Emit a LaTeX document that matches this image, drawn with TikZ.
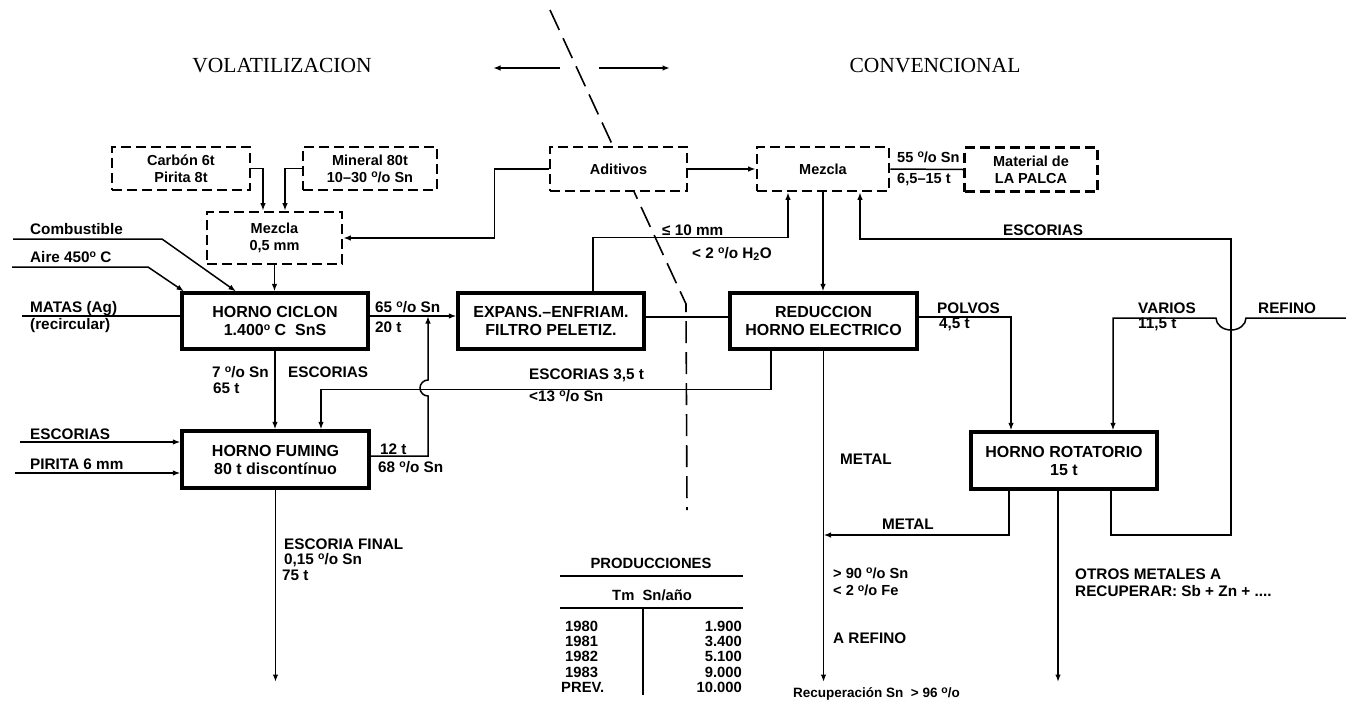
\documentclass[tikz,border=0pt]{standalone}
\usepackage{fontspec}
\setmainfont{Liberation Sans}
\newfontfamily\titlefont{Liberation Serif}
\usetikzlibrary{arrows.meta,calc}
\newcommand\pct{\raisebox{.55ex}{\fontsize{10.5}{10.5}\selectfont o}/o}
\newcommand\gradsup{\raisebox{.6ex}{\fontsize{10.5}{10.5}\selectfont o}}
\begin{document}
\begin{tikzpicture}[x=1pt,y=-1pt,
  font=\bfseries\fontsize{15.3}{17.5}\selectfont,
  box/.style={draw, line width=3.2pt, fill=white, align=center, inner sep=0pt, font=\bfseries\fontsize{16}{18}\selectfont},
  dbox/.style={draw, line width=2.6pt, dash pattern=on 10pt off 5pt, fill=white, align=center, inner sep=0pt, font=\bfseries\fontsize{14.5}{17}\selectfont},
  conn/.style={line width=1.5pt},
  arr/.style={conn, -{Latex[length=7.5pt,width=5.5pt]}},
  lbl/.style={anchor=base west, inner sep=0pt},
  small/.style={lbl, font=\bfseries\fontsize{14.6}{16}\selectfont},
  tbl/.style={inner sep=0pt, font=\bfseries\fontsize{14.8}{17}\selectfont},
  divider/.style={line width=1.6pt, dash pattern=on 22pt off 9pt},
  rule/.style={line width=1.6pt}]
\useasboundingbox (0,0) rectangle (1346,710);
\fill[white] (0,0) rectangle (1346,710);

% titles
\node[font=\titlefont\fontsize{21.5}{22}\selectfont] (volat) at (282,66) {VOLATILIZACION};
\node[font=\titlefont\fontsize{21.5}{22}\selectfont] (conv) at (935,66) {CONVENCIONAL};
\coordinate (la1) at (560,68); \coordinate (la2) at (493,68);
\coordinate (ra1) at (599,68); \coordinate (ra2) at (670,68);
\draw[arr,line width=1.6pt] (la1) -- (la2);
\draw[arr,line width=1.6pt] (ra1) -- (ra2);

% divider
\coordinate (d1) at (550,10); \coordinate (d2) at (686,304); \coordinate (d3) at (687,510);
\draw[divider] (d1) -- (d2) -- (d3);

% boxes
\node[dbox, minimum width=138pt, minimum height=43pt] (carbon) at (181,168.5) {Carbón 6t\\Pirita 8t};
\node[dbox, minimum width=134pt, minimum height=43pt] (mineral) at (370,168.5) {Mineral 80t\\10–30 \pct{} Sn};
\node[dbox, minimum width=135pt, minimum height=52pt] (mezclaL) at (274.5,238) {Mezcla\\0,5 mm};
\node[dbox, minimum width=137pt, minimum height=44pt] (aditivos) at (618.5,169) {Aditivos};
\node[dbox, minimum width=132pt, minimum height=44pt] (mezclaR) at (823,169) {Mezcla};
\node[dbox, minimum width=133pt, minimum height=44pt] (palca) at (1031,169.5) {Material de\\LA PALCA};
\node[box, minimum width=186pt, minimum height=56pt] (ciclon) at (275,321) {HORNO CICLON\\1.400\gradsup{} C\ \ SnS};
\node[box, minimum width=187pt, minimum height=57pt] (fuming) at (275.5,459.5) {HORNO FUMING\\80 t discontínuo};
\node[box, minimum width=186pt, minimum height=56pt] (expans) at (551,321) {EXPANS.–ENFRIAM.\\FILTRO PELETIZ.};
\node[box, minimum width=187pt, minimum height=56pt] (reduccion) at (823.5,321) {REDUCCION\\HORNO ELECTRICO};
\node[box, minimum width=186pt, minimum height=57pt] (rotatorio) at (1064,460.5) {HORNO ROTATORIO\\15 t};

% free ends
\coordinate (combIn) at (13,239);
\coordinate (aireIn) at (12,267);
\coordinate (matasIn) at (22,316);
\coordinate (escIn) at (20,442);
\coordinate (pirIn) at (15,473);
\coordinate (j1) at (428,316);
\coordinate (escEnd) at (275.5,682);
\coordinate (refEnd) at (823.5,682);
\coordinate (otrosEnd) at (1058,682);
\coordinate (metalJoin) at (823.5,535);
\coordinate (refIn) at (1346,318);

% connectors, top left
\draw[arr] (carbon.east) -| ([xshift=-11.5pt]mezclaL.north);
\draw[arr] (mineral.west) -| ([xshift=10.5pt]mezclaL.north);
\draw[arr] (mezclaL.south) -- (mezclaL.south |- ciclon.north);
\draw[arr] (combIn) -- (162,239) -- ([xshift=-39pt]ciclon.north);
\draw[arr] (aireIn) -- (148,267) -- ([xshift=-91pt]ciclon.north);
\draw[conn] (matasIn) -- ([yshift=5pt]ciclon.west);
\draw[arr] ([yshift=5pt]ciclon.east) -- ([yshift=5pt]expans.west);
\draw[arr] (ciclon.south) -- (ciclon.south |- fuming.north);
\draw[arr] (escIn) -- (escIn -| fuming.west);
\draw[arr] (pirIn) -- (pirIn -| fuming.west);
\draw[arr] (fuming.south) -- (escEnd);
\draw[arr] ([yshift=3.5pt]fuming.east) -| (428,396) arc[start angle=90, end angle=270, radius=8] -- (j1);

% middle
\draw[arr] (aditivos.east) -- (mezclaR.west);
\draw[arr] (aditivos.west) -| ($(mezclaL.east)+(151,0)$) -- (mezclaL.east);
\draw[conn] (mezclaR.east) -- (palca.west);
\draw[arr] ([xshift=42pt]expans.north) -- ++(0,-54) -| ([xshift=-35pt]mezclaR.south);
\draw[arr] (mezclaR.south) -- (mezclaR.south |- reduccion.north);
\draw[conn] ([yshift=4pt]expans.east) -- ([yshift=4pt]reduccion.west);
\draw[arr] ([xshift=-52.5pt]reduccion.south) -- ++(0,39) -| ([xshift=45.5pt]fuming.north);
\draw[arr] (reduccion.south) -- (refEnd);

% right
\draw[arr] ([yshift=4pt]reduccion.east) -| ([xshift=-53pt]rotatorio.north);
\draw[arr] (refIn) -- (1246,318) arc[start angle=0, end angle=180, x radius=15, y radius=12] -- (1113,318) -- ([xshift=49pt]rotatorio.north);
\draw[arr] ([xshift=47pt]rotatorio.south) |- (1231,535) -- (1231,239) -| ([xshift=37pt]mezclaR.south);
\draw[arr] ([xshift=-55pt]rotatorio.south) |- (metalJoin);
\draw[arr] ([xshift=-6pt]rotatorio.south) -- (otrosEnd);

% labels
\node[lbl] (l1) at (30,234) {Combustible};
\node[lbl] (l2) at (30,262) {Aire 450\gradsup{} C};
\node[lbl] (l3) at (30,312) {MATAS (Ag)};
\node[lbl] (l4) at (30,329) {(recircular)};
\node[lbl] (l5) at (375,312) {65 \pct{} Sn};
\node[lbl] (l6) at (375,332) {20 t};
\node[lbl] (l7) at (212,377) {7 \pct{} Sn};
\node[lbl] (l8) at (213,393) {65 t};
\node[lbl] (l9) at (288,377) {ESCORIAS};
\node[lbl] (l10) at (30,439) {ESCORIAS};
\node[lbl] (l11) at (30,469) {PIRITA 6 mm};
\node[lbl] (l12) at (380,454) {12 t};
\node[lbl] (l13) at (378,472) {68 \pct{} Sn};
\node[lbl] (l14) at (284,549) {ESCORIA FINAL};
\node[lbl] (l15) at (284,564) {0,15 \pct{} Sn};
\node[lbl] (l16) at (282,580) {75 t};
\node[lbl] (l17) at (662,235) {≤ 10 mm};
\node[lbl] (l18) at (692,258) {< 2 \pct{} H\textsubscript{2}O};
\node[small] (l19) at (897,162) {55 \pct{} Sn};
\node[small] (l20) at (897,183) {6,5–15 t};
\node[lbl] (l21) at (1003,235) {ESCORIAS};
\node[lbl] (l22) at (529,379) {ESCORIAS 3,5 t};
\node[lbl] (l23) at (529,401) {<13 \pct{} Sn};
\node[lbl] (l24) at (937,313) {POLVOS};
\node[lbl] (l25) at (939,328) {4,5 t};
\node[lbl] (l26) at (1138,313) {VARIOS};
\node[lbl] (l27) at (1138,328) {11,5 t};
\node[lbl] (l28) at (1258,313) {REFINO};
\node[lbl] (l29) at (840,464) {METAL};
\node[lbl] (l30) at (882,529) {METAL};
\node[small] (l31) at (833,578) {> 90 \pct{} Sn};
\node[small] (l32) at (833,595.5) {< 2 \pct{} Fe};
\node[lbl] (l33) at (833,643) {A REFINO};
\node[lbl] (l34) at (1075,579) {OTROS METALES A};
\node[lbl] (l35) at (1075,596) {RECUPERAR: Sb + Zn + ....};
\node[lbl, font=\bfseries\fontsize{13.5}{15}\selectfont] (l36) at (793,697) {Recuperación Sn \ > 96 \pct};

% table
\node[tbl, anchor=base] (tprod) at (651,568) {PRODUCCIONES};
\draw[rule] (560,576) -- (743,576);
\node[tbl, anchor=base west] (tunit) at (612,600) {Tm\ \ Sn/año};
\draw[rule] (560,608) -- (743,608);
\draw[rule] (643,608) -- (643,695);
\node[tbl, anchor=base west] (y1) at (565,631) {1980};
\node[tbl, anchor=base west] (y2) at (565,646) {1981};
\node[tbl, anchor=base west] (y3) at (565,661) {1982};
\node[tbl, anchor=base west] (y4) at (565,677) {1983};
\node[tbl, anchor=base west] (y5) at (561,692) {PREV.};
\node[tbl, anchor=base east] (v1) at (742,631) {1.900};
\node[tbl, anchor=base east] (v2) at (742,646) {3.400};
\node[tbl, anchor=base east] (v3) at (742,661) {5.100};
\node[tbl, anchor=base east] (v4) at (742,677) {9.000};
\node[tbl, anchor=base east] (v5) at (742,692) {10.000};
\end{tikzpicture}
\end{document}
